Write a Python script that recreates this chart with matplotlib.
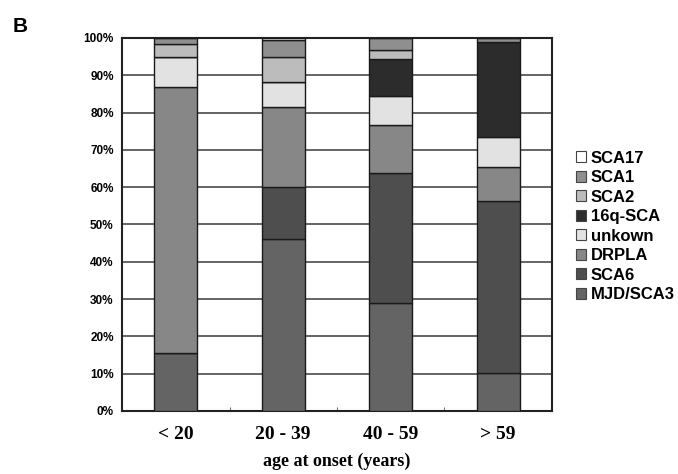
import matplotlib
matplotlib.use("Agg")
import matplotlib.pyplot as plt
import numpy as np

categories = ["< 20", "20 - 39", "40 - 59", "> 59"]
series_names = ["MJD/SCA3", "SCA6", "DRPLA", "unkown", "16q-SCA", "SCA2", "SCA1", "SCA17"]
mjd_sca3 = [15.5, 46.1, 28.9, 10.3]
sca6 = [0.0, 14.0, 35.0, 46.1]
drpla = [71.4, 21.3, 12.8, 8.9]
unkown = [8.0, 6.7, 7.6, 8.2]
q16_sca = [0.0, 0.0, 10.0, 25.5]
sca2 = [3.6, 6.9, 2.5, 0.0]
sca1 = [1.5, 4.5, 3.2, 1.0]
sca17 = [0.0, 0.5, 0.0, 0.0]
y_ticks = [0, 10, 20, 30, 40, 50, 60, 70, 80, 90, 100]

series_values = [mjd_sca3, sca6, drpla, unkown, q16_sca, sca2, sca1, sca17]
colors = ["#646464", "#4e4e4e", "#878787", "#e2e2e2", "#2c2c2c", "#bcbcbc", "#8f8f8f", "#ffffff"]

fig = plt.figure(figsize=(6.78, 4.74), dpi=100)
ax = fig.add_axes([0.180, 0.133, 0.634, 0.787])

x = np.arange(len(categories))
bottom = np.zeros(len(categories))
handles = []
for name, vals, c in zip(series_names, series_values, colors):
    v = np.array(vals)
    b = ax.bar(x, v, bottom=bottom, width=0.4, color=c, edgecolor="#1a1a1a",
               linewidth=1.0, label=name, zorder=3)
    handles.append(b)
    bottom += v

ax.set_xlim(-0.5, len(categories) - 0.5)
ax.set_ylim(0, 100)
ax.set_yticks(y_ticks)
ax.set_yticklabels([f"{t}%" for t in y_ticks], fontfamily="Liberation Sans",
                   fontweight="bold", fontsize=8.5)
ax.yaxis.grid(True, color="#3a3a3a", linewidth=1.1, zorder=1)
ax.set_axisbelow(True)
ax.tick_params(axis="y", length=0, pad=6)

ax.set_xticks(x)
ax.set_xticklabels(categories, fontfamily="Liberation Serif", fontweight="bold", fontsize=14)
ax.tick_params(axis="x", length=0, pad=11)
ax.set_xticks([0.5, 1.5, 2.5], minor=True)
ax.tick_params(axis="x", which="minor", direction="in", length=3, color="#555555")
ax.set_xlabel("age at onset (years)", fontfamily="Liberation Serif", fontweight="bold",
              fontsize=13, labelpad=7)

for s in ax.spines.values():
    s.set_linewidth(1.5)
    s.set_color("#222222")

leg = fig.legend(handles[::-1], series_names[::-1], loc="upper left",
                 bbox_to_anchor=(0.849, 0.682), frameon=False,
                 prop={"family": "Liberation Sans", "weight": "bold", "size": 12},
                 handlelength=0.65, handleheight=0.65, handletextpad=0.25,
                 labelspacing=0.27, borderaxespad=0, borderpad=0)
for h in leg.legend_handles:
    h.set_edgecolor("#444444")
    h.set_linewidth(0.8)

fig.text(0.018, 0.965, "B", fontfamily="Liberation Sans", fontweight="bold",
         fontsize=15, va="top", ha="left")

fig.savefig("out.png", dpi=100, facecolor="white")
